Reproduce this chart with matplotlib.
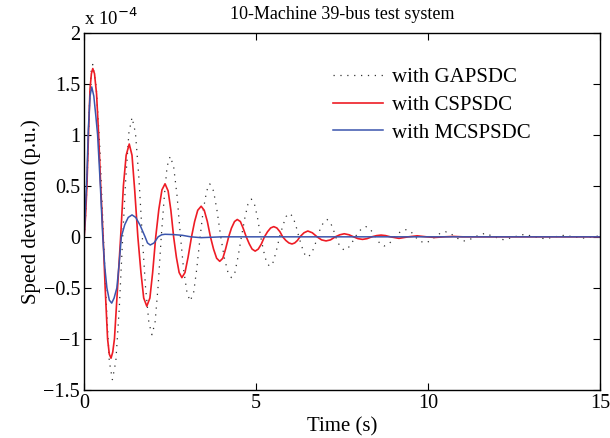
import matplotlib
matplotlib.use("Agg")
import matplotlib.pyplot as plt

plt.rcParams["font.family"] = ["Liberation Serif", "DejaVu Serif"]

# speed deviation, in units of 1e-4 p.u.
t_ga = [0.0, 0.04, 0.08, 0.125, 0.17, 0.21, 0.25,
        0.35, 0.46, 0.56, 0.65, 0.73, 0.82, 0.92, 1.02, 1.12, 1.21, 1.30, 1.39,
        1.49, 1.59, 1.69, 1.78, 1.88, 1.97, 2.06, 2.15, 2.24, 2.33, 2.41, 2.50,
        2.60, 2.70, 2.80, 2.89, 2.99, 3.08, 3.18, 3.27, 3.37, 3.46, 3.56, 3.65,
        3.76, 3.86, 3.97, 4.07, 4.18, 4.28, 4.38, 4.47, 4.57, 4.67, 4.76, 4.86,
        4.95, 5.04, 5.13, 5.22, 5.30, 5.39, 5.49, 5.58, 5.68, 5.78, 5.87, 5.97,
        6.06, 6.15, 6.24, 6.33, 6.41, 6.50, 6.59, 6.69, 6.78, 6.87, 6.97, 7.06,
        7.14, 7.23, 7.31, 7.39, 7.48, 7.56, 7.67, 7.77, 7.88, 7.98, 8.09, 8.19,
        8.28, 8.37, 8.46, 8.55, 8.63, 8.72, 8.82, 8.93, 9.03, 9.19, 9.35, 9.50,
        9.62, 9.76, 9.90, 10.05, 10.20, 10.35, 10.50, 10.64, 10.78, 10.92, 11.05,
        11.20, 11.35, 11.65, 11.92, 12.20, 12.50, 12.80, 13.10, 13.40, 13.68,
        13.95, 14.22, 14.50, 14.78, 15.0]
w_ga = [0.0, 0.2, 0.5, 1.0, 1.45, 1.65, 1.69,
        1.47, 0.85, 0.0, -0.70, -1.22, -1.40, -1.22, -0.70, 0.0, 0.58, 1.02, 1.17,
        1.02, 0.58, 0.0, -0.48, -0.84, -0.96, -0.84, -0.48, 0.0, 0.40, 0.69, 0.79,
        0.69, 0.40, 0.0, -0.32, -0.55, -0.63, -0.55, -0.32, 0.0, 0.26, 0.45, 0.52,
        0.45, 0.26, 0.0, -0.20, -0.35, -0.40, -0.35, -0.20, 0.0, 0.185, 0.32, 0.37,
        0.32, 0.185, 0.0, -0.145, -0.25, -0.29, -0.25, -0.145, 0.0, 0.115, 0.20, 0.23,
        0.20, 0.115, 0.0, -0.10, -0.17, -0.20, -0.17, -0.10, 0.0, 0.085, 0.15, 0.17,
        0.15, 0.085, 0.0, -0.065, -0.11, -0.13, -0.11, -0.065, 0.0, 0.05, 0.087, 0.10,
        0.087, 0.05, 0.0, -0.045, -0.078, -0.09, -0.078, -0.045, 0.0, 0.05, 0.07, 0.05,
        0.0, -0.042, -0.06, -0.042, 0.0, 0.035, 0.05, 0.035, 0.0, -0.028, -0.04,
        -0.028, 0.0, 0.035, 0.0, -0.03, 0.0, 0.025, 0.0, -0.02, 0.0,
        0.015, 0.0, -0.012, 0.0, 0.01]

t_cs = [0.0, 0.04, 0.08, 0.125, 0.17, 0.21, 0.25, 0.30, 0.36, 0.42, 0.48, 0.55,
        0.61, 0.68, 0.73, 0.78, 0.83, 0.88, 0.97, 1.06, 1.14, 1.22, 1.31, 1.39,
        1.47, 1.56, 1.65, 1.73, 1.82, 1.91, 1.99, 2.08, 2.17, 2.26, 2.35, 2.44,
        2.52, 2.60, 2.68, 2.76, 2.84, 2.93, 3.02, 3.12, 3.21, 3.30, 3.40, 3.49,
        3.58, 3.67, 3.76, 3.85, 3.94, 4.03, 4.11, 4.20, 4.28, 4.37, 4.45, 4.54,
        4.62, 4.71, 4.80, 4.88, 4.97, 5.06, 5.15, 5.24, 5.33, 5.42, 5.51, 5.60,
        5.69, 5.77, 5.86, 5.95, 6.04, 6.12, 6.20, 6.27, 6.39, 6.50, 6.63, 6.77,
        6.90, 7.03, 7.16, 7.30, 7.43, 7.56, 7.70, 7.83, 7.96, 8.09, 8.22, 8.36,
        8.50, 8.63, 8.76, 8.90, 9.15, 9.42, 9.68, 9.95, 10.2, 10.47, 10.73, 11.0,
        11.5, 15.0]
w_cs = [0.0, 0.2, 0.5, 1.0, 1.45, 1.6, 1.65, 1.6, 1.4, 1.0, 0.5, 0.0,
        -0.5, -1.0, -1.15, -1.19, -1.13, -1.0, -0.5, 0.0, 0.5, 0.8, 0.91, 0.8,
        0.45, 0.0, -0.35, -0.6, -0.68, -0.6, -0.35, 0.0, 0.27, 0.46, 0.52, 0.45,
        0.26, 0.0, -0.2, -0.35, -0.40, -0.35, -0.2, 0.0, 0.15, 0.26, 0.30, 0.26,
        0.15, 0.0, -0.12, -0.21, -0.24, -0.21, -0.12, 0.0, 0.085, 0.15, 0.17, 0.15,
        0.085, 0.0, -0.07, -0.12, -0.14, -0.12, -0.07, 0.0, 0.05, 0.087, 0.10, 0.087,
        0.05, 0.0, -0.035, -0.06, -0.07, -0.06, -0.035, 0.0, 0.04, 0.057, 0.04, 0.0,
        -0.03, -0.04, -0.03, 0.0, 0.02, 0.03, 0.02, 0.0, -0.018, -0.025, -0.018, 0.0,
        0.012, 0.017, 0.012, 0.0, -0.015, 0.0, 0.01, 0.0, -0.006, 0.0, 0.004, 0.0,
        0.0, 0.0]

t_mc = [0.0, 0.04, 0.08, 0.12, 0.17, 0.22, 0.28, 0.34, 0.39, 0.43, 0.47, 0.54,
        0.60, 0.66, 0.73, 0.80, 0.87, 0.95, 1.02, 1.08, 1.18, 1.28, 1.39, 1.50,
        1.63, 1.77, 1.84, 1.92, 2.03, 2.15, 2.25, 2.35, 2.60, 2.85, 3.10, 3.40,
        3.70, 4.00, 15.0]
w_mc = [0.0, 0.3, 0.6, 1.05, 1.38, 1.47, 1.38, 1.18, 1.0, 0.75, 0.5, 0.0,
        -0.3, -0.5, -0.62, -0.65, -0.6, -0.5, -0.25, 0.0, 0.12, 0.19, 0.215, 0.19,
        0.11, 0.0, -0.06, -0.08, -0.06, 0.0, 0.02, 0.025, 0.022, 0.015, 0.0, -0.008,
        -0.004, 0.0, 0.0]

labels = ["with GAPSDC", "with CSPSDC", "with MCSPSDC"]
y_ticks = [-1.5, -1, -0.5, 0, 0.5, 1, 1.5, 2]
y_tick_labels = ["\u22121.5", "\u22121", "\u22120.5", "0", "0.5", "1", "1.5", "2"]
x_ticks = [0, 5, 10, 15]

fig = plt.figure(figsize=(6.1, 4.38), dpi=100)
ax = fig.add_axes([0.138, 0.110, 0.846, 0.815])

ax.plot(t_ga, w_ga, color="#333333", linestyle=(0, (1, 4.5)), linewidth=0.9, label=labels[0])
ax.plot(t_cs, w_cs, color="#ee1c25", linewidth=1.2, label=labels[1])
ax.plot(t_mc, w_mc, color="#3b55ad", linewidth=1.1, label=labels[2])

ax.set_xlim(0, 15)
ax.set_ylim(-1.5, 2)
ax.set_xticks(x_ticks)
ax.set_yticks(y_ticks)
ax.set_yticklabels(y_tick_labels)
ax.tick_params(direction="in", top=True, right=True, labelsize=14.5, length=5, width=0.8, pad=3)
for s in ax.spines.values():
    s.set_linewidth(1.0)

ax.set_xlabel("Time (s)", fontsize=15, labelpad=3)
ax.set_ylabel("Speed deviation (p.u.)", fontsize=15, labelpad=2)
ax.set_title("10-Machine 39-bus test system", fontsize=13, pad=10)
ax.text(0.0, 1.012, "x 10$^{-4}$", transform=ax.transAxes, fontsize=13.5,
        ha="left", va="bottom")

ax.legend(loc="upper right", bbox_to_anchor=(0.902, 0.956), frameon=False,
          fontsize=15, handlelength=2.4, labelspacing=0.4, handletextpad=0.45)

fig.savefig("out.png", dpi=100)
